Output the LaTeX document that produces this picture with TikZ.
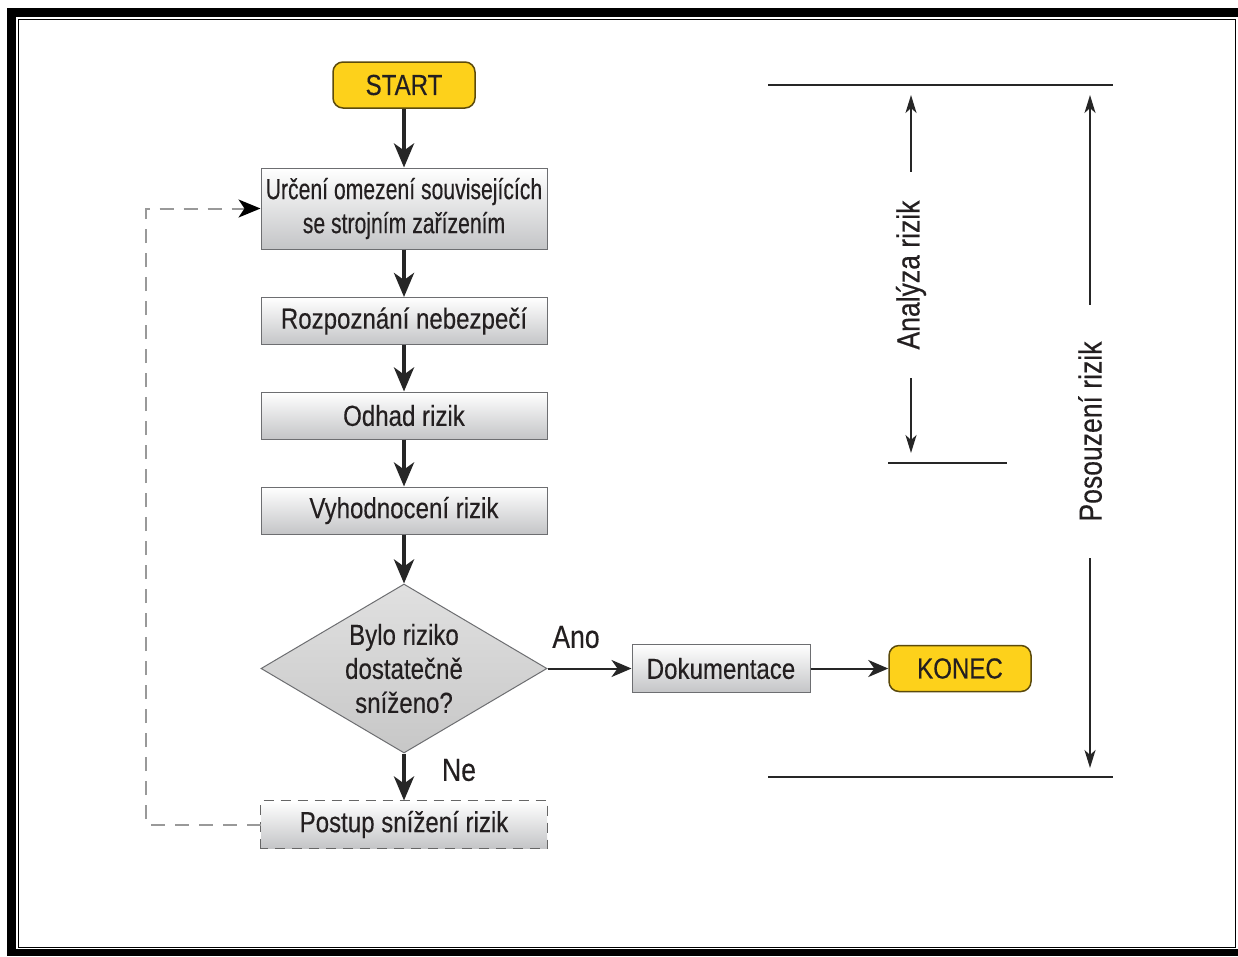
\documentclass[tikz,border=0pt]{standalone}
\usepackage{fontspec}
\setmainfont{Liberation Sans}[FakeStretch=0.83,FakeBold=0.3]
\newfontfamily\narrowfont{Liberation Sans}[FakeStretch=0.73,FakeBold=0.3]
\usetikzlibrary{shapes.geometric}
\usetikzlibrary{arrows.meta}

\definecolor{signyellow}{HTML}{FDD11B}
\definecolor{signedge}{HTML}{5B4A0C}
\definecolor{inktext}{HTML}{231F20}
\definecolor{boxedge}{HTML}{6D6E71}
\definecolor{boxshade}{HTML}{C4C5C7}

\begin{document}
\begin{tikzpicture}
[x=1pt,y=-1pt,font=\fontsize{29}{34}\selectfont,text=inktext,%
  terminaldecorate/.style={shape=rectangle,rounded corners=10pt,draw=signedge,line width=1.5pt,
    fill=signyellow,minimum width=142pt,minimum height=46pt,inner sep=0pt},%
  boxdecorate/.style={shape=rectangle,draw=boxedge,line width=1pt,top color=white,
    bottom color=boxshade,minimum width=286pt,minimum height=47pt,inner sep=0pt,align=center},%
  decisiondecorate/.style={shape=diamond,draw=boxedge,line width=1pt,top color=gray!24,
    bottom color=gray!44,minimum width=286pt,minimum height=169pt,inner sep=0pt},%
  dashdecorate/.style={draw=gray!80!black,dash pattern=on 10pt off 7pt},%
  mainarrow/.style={-{Stealth[length=24pt,width=20pt,inset=7pt]},line width=4.5pt,draw=black!85},%
  thinarrow/.style={-{Stealth[length=20pt,width=17pt,inset=6pt]},line width=2pt,draw=black!85},%
  feedbackline/.style={-{Stealth[length=22pt,width=18pt,inset=6pt,black]},line width=2pt,
    draw=gray!80,dash pattern=on 14pt off 10pt},%
  dimline/.style={line width=2pt,draw=black!85},%
  dimarrow/.style={-{Stealth[length=18pt,width=11pt,inset=5pt]},line width=2pt,draw=black!85},%
  dimlabel/.style={rotate=90,inner sep=0pt,fill=white,font=\fontsize{32}{38}\selectfont}]
%%
%% Frame
\useasboundingbox (0,0) rectangle (1238,956);
\fill[black] (7,8) rectangle (1238,956);
\fill[white] (15.5,16.5) rectangle (1238,949);
\draw[line width=1.5pt] (18.5,19.5) rectangle (1235.5,947.5);
%%
%% Flow chart nodes
\node (start) at (404,85) [terminaldecorate] {START};
\node (limits) at (404,208.5) [boxdecorate,minimum height=81pt]
  {\narrowfont Určení omezení souvisejících\\\narrowfont se strojním zařízením};
\node (hazard) at (404,321) [boxdecorate] {Rozpoznání nebezpečí};
\node (estimate) at (404,415.5) [boxdecorate] {Odhad rizik};
\node (evaluate) at (404,510.5) [boxdecorate] {Vyhodnocení rizik};
\node (decision) at (404,668.5) [decisiondecorate] {};
\node (question) at (decision) [align=center] {Bylo riziko\\dostatečně\\sníženo?};
\node (reduce) at (404,824.5) [boxdecorate,draw=none] {Postup snížení rizik};
\draw[dashdecorate,line width=1pt] (reduce.south west) rectangle (reduce.north east);
\node (docs) at (721,668.5) [boxdecorate,minimum width=178pt,minimum height=48pt] {Dokumentace};
\node (konec) at (960,668.5) [terminaldecorate] {KONEC};
\node (yes) at (576,637) [font=\fontsize{32}{38}\selectfont] {Ano};
\node (no) at (459,770) [font=\fontsize{32}{38}\selectfont] {Ne};
%%
%% Connectors
\path
\foreach \startnode/\endnode in {start/limits, limits/hazard, hazard/estimate,
  estimate/evaluate, evaluate/decision, decision/reduce} {
  (\startnode) edge[mainarrow] (\endnode)
};
\draw[thinarrow] (decision.east) -- (docs.west);
\draw[thinarrow] (docs) -- (konec);
%% Loop back
\coordinate (loopbottom) at (146,824.5);
\coordinate (looptop) at (146,208.5);
\draw[feedbackline] (reduce.west) -- (loopbottom) -- (looptop) -- (limits.west);
%%
%% Dimension lines
\coordinate (topleft) at (768,85);
\coordinate (topright) at (1113,85);
\coordinate (bottomleft) at (768,777);
\coordinate (bottomright) at (1113,777);
\coordinate (midleft) at (888,463);
\coordinate (midright) at (1007,463);
\draw[dimline] (topleft) -- (topright);
\draw[dimline] (bottomleft) -- (bottomright);
\draw[dimline] (midleft) -- (midright);
\node (analysis) at (911,275) [dimlabel,minimum width=206pt] {Analýza rizik};
\node (assessment) at (1090,431.5) [dimlabel,minimum width=253pt] {Posouzení rizik};
\coordinate (analysistop) at (911,95);
\coordinate (analysisbottom) at (911,453);
\coordinate (assessmenttop) at (1090,95);
\coordinate (assessmentbottom) at (1090,768);
\draw[dimarrow] (analysis.east) -- (analysistop);
\draw[dimarrow] (analysis.west) -- (analysisbottom);
\draw[dimarrow] (assessment.east) -- (assessmenttop);
\draw[dimarrow] (assessment.west) -- (assessmentbottom);
\end{tikzpicture}
\end{document}
